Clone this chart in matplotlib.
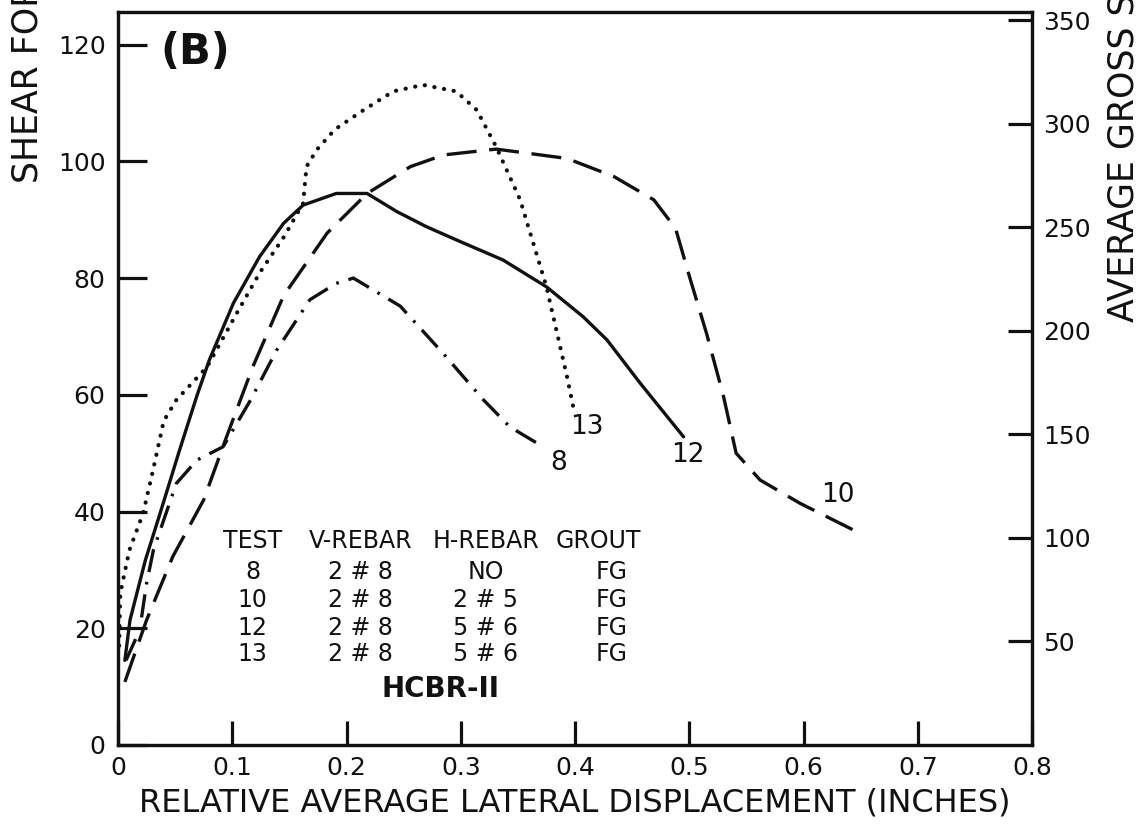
import matplotlib
matplotlib.use("Agg")
import matplotlib.pyplot as plt

# Test 12 (solid)
t12_x = [0.006, 0.0105, 0.024, 0.037, 0.054, 0.069, 0.080, 0.101, 0.124, 0.145, 0.162,
         0.191, 0.218, 0.244, 0.270, 0.299, 0.337, 0.375, 0.407, 0.428, 0.457, 0.495]
t12_y = [14.5, 21.4, 31.7, 39.8, 50.6, 59.8, 66.0, 75.7, 83.7, 89.4, 92.5,
         94.5, 94.5, 91.4, 88.8, 86.3, 83.1, 78.5, 73.4, 69.4, 62.0, 52.8]

# Test 13 (dotted)
t13_x = [0.001, 0.002, 0.010, 0.022, 0.030, 0.037, 0.040, 0.051, 0.078, 0.104, 0.124,
         0.145, 0.162, 0.165, 0.174, 0.190, 0.215, 0.241, 0.267, 0.296, 0.314, 0.331,
         0.352, 0.375, 0.393, 0.399]
t13_y = [17.0, 26.0, 33.4, 39.7, 46.5, 52.8, 55.5, 59.1, 64.8, 74.0, 80.9,
         87.0, 92.8, 99.1, 102.0, 105.5, 108.8, 112.0, 113.1, 112.0, 108.8, 102.5,
         93.4, 78.5, 63.1, 57.4]

# Test 8 (dash-dot)
t8_x = [0.007, 0.019, 0.025, 0.031, 0.051, 0.069, 0.092, 0.116, 0.139, 0.168, 0.191,
        0.206, 0.247, 0.285, 0.320, 0.343, 0.372]
t8_y = [14.5, 19.7, 27.7, 33.4, 44.8, 48.8, 51.1, 59.1, 67.7, 76.3, 79.1,
        80.0, 75.2, 67.0, 59.1, 54.5, 51.1]

# Test 10 (dashed)
t10_x = [0.006, 0.025, 0.048, 0.075, 0.095, 0.118, 0.145, 0.183, 0.218, 0.256, 0.285,
         0.331, 0.393, 0.434, 0.469, 0.488, 0.501, 0.515, 0.530, 0.541, 0.562, 0.597,
         0.644]
t10_y = [10.8, 21.4, 32.3, 42.0, 52.8, 64.8, 77.0, 87.7, 94.5, 99.1, 101.1,
         102.1, 100.5, 97.4, 93.4, 88.5, 79.7, 70.6, 59.7, 50.0, 45.4, 41.4,
         36.8]

x_ticks = [0, 0.1, 0.2, 0.3, 0.4, 0.5, 0.6, 0.7, 0.8]
x_tick_labels = ["0", "0.1", "0.2", "0.3", "0.4", "0.5", "0.6", "0.7", "0.8"]
left_ticks = [0, 20, 40, 60, 80, 100, 120]
right_ticks = [50, 100, 150, 200, 250, 300, 350]

table_rows = [
    ["TEST", "V-REBAR", "H-REBAR", "GROUT"],
    ["8", "2 # 8", "NO", "FG"],
    ["10", "2 # 8", "2 # 5", "FG"],
    ["12", "2 # 8", "5 # 6", "FG"],
    ["13", "2 # 8", "5 # 6", "FG"],
]

plt.rcParams["font.family"] = ["DejaVu Sans"]
ink = "#111111"

fig = plt.figure(figsize=(11.39, 8.25), dpi=100)
ax = fig.add_axes([0.1036, 0.0970, 0.8025, 0.8885])
ax2 = ax.twinx()

lw = 2.4
ax.plot(t12_x, t12_y, color=ink, lw=lw, solid_capstyle="round")
ax.plot(t13_x, t13_y, color=ink, lw=3.0, linestyle=(0, (0.05, 2.3)),
        dash_capstyle="round")
ax.plot(t8_x, t8_y, color=ink, lw=lw, linestyle=(0, (7, 3, 0.8, 3)))
ax.plot(t10_x, t10_y, color=ink, lw=lw, linestyle=(0, (9, 3.8)))

ax.set_xlim(0, 0.8)
ax.set_ylim(0, 125.6)
ax2.set_ylim(0, 354)

ax.set_xticks(x_ticks)
ax.set_xticklabels(x_tick_labels)
ax.set_yticks(left_ticks)
ax2.set_yticks(right_ticks)

for a in (ax, ax2):
    for s in a.spines.values():
        s.set_linewidth(2.3)
        s.set_color(ink)

ax.tick_params(axis="x", direction="in", length=17, width=2.3, labelsize=18,
               pad=8, colors=ink)
ax.tick_params(axis="y", direction="in", length=21, width=2.3, labelsize=18,
               pad=9, colors=ink)
ax2.tick_params(axis="y", direction="in", length=17, width=2.3, labelsize=18,
                pad=8, colors=ink)

ax.set_xlabel("RELATIVE AVERAGE LATERAL DISPLACEMENT (INCHES)", fontsize=23,
              color=ink, labelpad=5)

fig.text(28 / 1139, 1 - 183 / 825, "SHEAR FORCE (KIPS)", rotation=90,
         ha="center", va="bottom", fontsize=25, color=ink)
fig.text(1124 / 1139, 1 - 322 / 825, "AVERAGE GROSS SHEAR STRESS (PSI)",
         rotation=90, ha="center", va="bottom", fontsize=25, color=ink)

ax.text(0.068, 118.8, "(B)", fontsize=30, fontweight="bold", color=ink,
        ha="center", va="center")

# Specimen table
col_x = [0.118, 0.212, 0.322, 0.420]
row_y = [35.0, 29.6, 24.8, 20.1, 15.6]
for r, (row, yy) in enumerate(zip(table_rows, row_y)):
    for c, (txt, xx) in enumerate(zip(row, col_x)):
        if r > 0 and c == 3:
            xx = 0.432
        ax.text(xx, yy, txt, fontsize=17, color=ink, ha="center", va="center")
ax.text(0.282, 9.6, "HCBR-II", fontsize=20, fontweight="bold", color=ink,
        ha="center", va="center")

# Curve end labels
ax.text(0.410, 54.5, "13", fontsize=19, color=ink, ha="center", va="center")
ax.text(0.386, 48.3, "8", fontsize=19, color=ink, ha="center", va="center")
ax.text(0.499, 49.7, "12", fontsize=19, color=ink, ha="center", va="center")
ax.text(0.630, 42.8, "10", fontsize=19, color=ink, ha="center", va="center")

fig.savefig("out.png", dpi=100, facecolor="white")
